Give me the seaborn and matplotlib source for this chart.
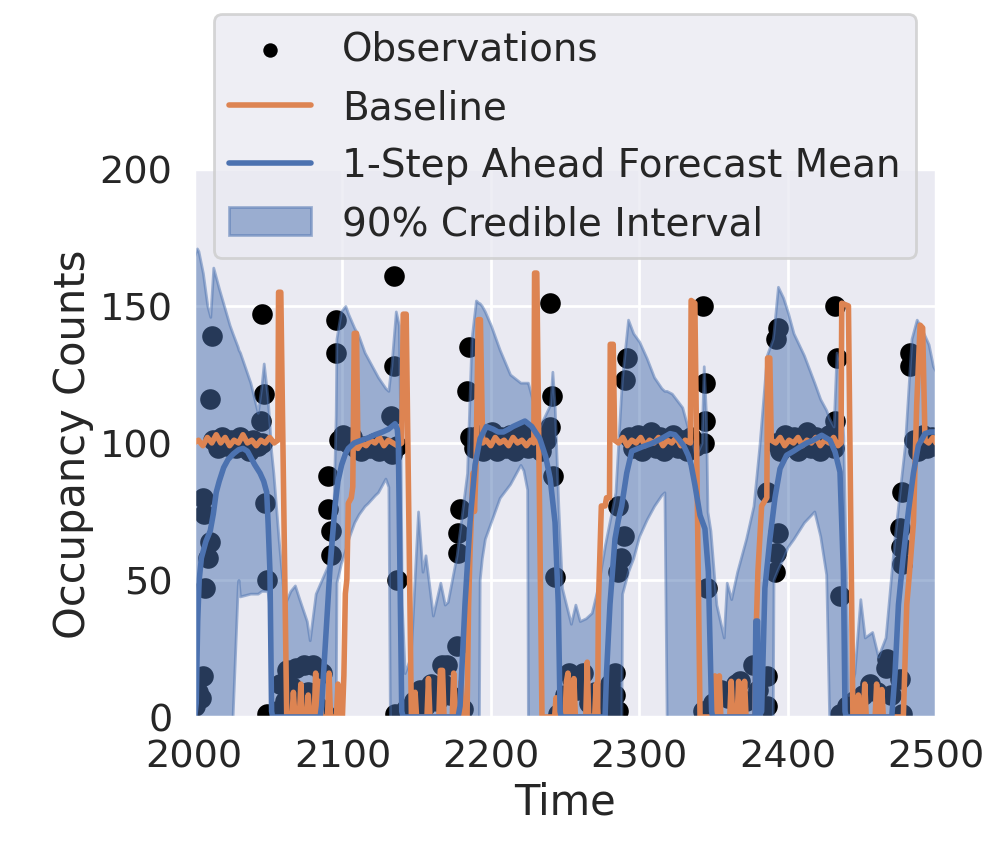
import matplotlib
matplotlib.use("Agg")
import matplotlib.pyplot as plt
import seaborn as sns

# observed occupancy counts (time, value)
obs_t = [2000.5, 2001.5, 2003, 2005, 2006, 2006, 2006.5, 2007.5, 2009.5, 2010.5,
         2011, 2012, 2013, 2016, 2019, 2022, 2025, 2028, 2031, 2034,
         2037, 2040, 2043, 2046, 2045, 2045.5, 2047, 2048, 2049, 2049,
         2056, 2058, 2061, 2063, 2066, 2069, 2071, 2074, 2077, 2080,
         2083, 2086, 2088, 2090.5, 2090.5, 2092.5, 2092.5, 2096, 2096, 2097.5,
         2100.5, 2103.5, 2106.5, 2109.5, 2112.5, 2115.5, 2118.5, 2121.5, 2124.5, 2127.5,
         2130.5, 2133.5, 2136.5, 2133, 2134.5, 2134.5, 2136.5, 2135.5, 2143, 2148,
         2152, 2156, 2160, 2164, 2167, 2168, 2170.5, 2172.5, 2177, 2181,
         2178, 2178, 2179.5, 2184, 2185, 2186, 2189, 2192, 2195, 2198,
         2201, 2204, 2207, 2210, 2213, 2216, 2219, 2222, 2225, 2228,
         2231, 2234, 2237, 2240, 2241, 2240, 2242, 2243.5, 2245, 2250,
         2252.5, 2255, 2258, 2262, 2266, 2270, 2275, 2280, 2283.5, 2284,
         2286, 2286, 2286, 2288, 2289.5, 2290.5, 2291.5, 2293, 2296, 2299,
         2302, 2305, 2308, 2311, 2314, 2317, 2320, 2323, 2326, 2329,
         2332, 2335, 2338, 2343, 2344.5, 2344.5, 2344, 2345.5, 2343, 2350,
         2355, 2360, 2365.5, 2368, 2372, 2377, 2380, 2386, 2386, 2386,
         2391.5, 2392.5, 2393.5, 2392.5, 2393.5, 2392, 2395, 2398, 2401, 2404,
         2407, 2410, 2413, 2416, 2419, 2422, 2425, 2428, 2431, 2432,
         2433, 2432, 2435.5, 2435.5, 2440, 2445, 2451, 2455.5, 2460, 2466,
         2467, 2470, 2476, 2477, 2476, 2476.5, 2477, 2477, 2482.5, 2482.5,
         2485, 2488, 2491, 2494, 2497, 2500]
obs_v = [4, 14, 9, 7, 15, 80, 74, 47, 58, 64,
         116, 139, 101, 98, 102, 99, 101, 98, 102, 100,
         97, 101, 99, 100, 108, 147, 118, 78, 50, 1,
         2, 12, 6, 17, 11, 18, 5, 19, 9, 19,
         4, 16, 1, 88, 76, 68, 59, 145, 133, 101,
         103, 100, 102, 98, 97, 99, 98, 100, 97, 99,
         98, 96, 99, 110, 161, 128, 50, 1, 3, 6,
         10, 4, 12, 6, 19, 12, 19, 8, 26, 3,
         60, 67, 76, 119, 135, 102, 98, 103, 97, 101,
         104, 97, 102, 98, 103, 97, 100, 104, 98, 102,
         99, 97, 101, 151, 117, 106, 88, 51, 1, 8,
         16, 14, 10, 16, 5, 9, 3, 12, 16, 8,
         2, 53, 77, 58, 66, 123, 131, 102, 98, 103,
         97, 101, 104, 98, 102, 97, 100, 103, 98, 101,
         97, 102, 99, 150, 122, 108, 100, 47, 2, 5,
         10, 7, 12, 13, 6, 19, 10, 15, 4, 82,
         53, 60, 67, 138, 142, 100, 97, 103, 99, 102,
         97, 101, 104, 98, 102, 97, 101, 103, 98, 150,
         131, 108, 44, 1, 4, 6, 8, 12, 9, 18,
         21, 8, 14, 1, 69, 62, 56, 82, 133, 128,
         101, 97, 103, 98, 102, 99]

# baseline forecast
base_t = [2000, 2003, 2006, 2009, 2012, 2015, 2018, 2021, 2024, 2027,
          2030, 2033, 2036, 2039, 2042, 2045, 2048, 2051, 2054, 2056.5,
          2057, 2058.5, 2062.5, 2066, 2067, 2068, 2071, 2072, 2073, 2076,
          2077, 2078, 2081, 2082, 2083, 2084.5, 2086, 2090, 2091, 2092,
          2096, 2097, 2098, 2100, 2101, 2102, 2103, 2104, 2106, 2107,
          2108, 2109.5, 2110.5, 2113, 2116, 2119, 2122, 2125, 2128, 2131,
          2134, 2137, 2140, 2141, 2143, 2146.5, 2148, 2149, 2150, 2157,
          2158, 2159, 2165, 2166, 2167.5, 2168.5, 2174, 2175, 2176, 2179,
          2180, 2181, 2184, 2185, 2186, 2188, 2189, 2190, 2191.5, 2193,
          2194.5, 2197, 2200, 2203, 2206, 2209, 2212, 2215, 2218, 2221,
          2224, 2227, 2229, 2229.5, 2231, 2234.5, 2243, 2244, 2245, 2250,
          2251, 2252, 2253, 2255, 2256, 2257, 2264, 2265, 2266, 2270,
          2271, 2272, 2272.5, 2274.5, 2277, 2278, 2280, 2280.5, 2282.5, 2283.5,
          2286, 2289, 2292, 2295, 2298, 2301, 2304, 2307, 2310, 2313,
          2316, 2319, 2322, 2325, 2328, 2331, 2334.5, 2335, 2337.5, 2341,
          2350, 2351, 2352, 2353, 2354, 2355, 2361, 2362, 2363, 2366,
          2367, 2368, 2370, 2371, 2372, 2378, 2379, 2380, 2382.5, 2386,
          2386.5, 2388, 2389, 2392, 2395, 2398, 2401, 2404, 2407, 2410,
          2413, 2416, 2419, 2422, 2425, 2428, 2431, 2434, 2436, 2436.5,
          2441, 2444, 2447, 2447.7, 2448.5, 2451, 2452, 2453, 2459, 2460,
          2461, 2462.5, 2463.5, 2464.5, 2478, 2480.3, 2482.5, 2484.8, 2487, 2489.3,
          2491, 2492.6, 2495, 2498, 2500]
base_v = [100, 101, 99, 102, 100, 103, 100, 102, 99, 101,
          100, 103, 100, 101, 99, 101, 100, 102, 100, 101,
          155, 155, 0, 0, 9, 0, 0, 12, 0, 0,
          8, 0, 0, 16, 0, 13, 0, 0, 16, 0,
          0, 12, 0, 0, 15, 45, 50, 78, 80, 84,
          140, 140, 98, 100, 99, 101, 100, 102, 99, 101,
          100, 99, 100, 147, 147, 0, 0, 9, 0, 0,
          14, 0, 0, 17, 17, 0, 0, 16, 0, 0,
          13, 0, 0, 40, 60, 89, 75, 90, 145, 145,
          100, 101, 99, 102, 100, 101, 99, 102, 100, 101,
          99, 101, 100, 162, 162, 0, 0, 7, 0, 0,
          13, 16, 0, 0, 14, 0, 0, 20, 0, 0,
          12, 0, 41, 77, 77, 80, 80, 136, 136, 101,
          100, 102, 99, 101, 100, 102, 99, 101, 100, 102,
          99, 101, 100, 102, 99, 101, 100, 152, 151, 0,
          0, 15, 0, 0, 15, 0, 0, 13, 0, 0,
          13, 0, 0, 13, 0, 0, 35, 53, 77, 80,
          131, 131, 101, 100, 102, 99, 101, 100, 102, 99,
          101, 100, 102, 99, 101, 100, 102, 99, 100, 151,
          150, 0, 0, 8, 0, 0, 12, 0, 0, 12,
          0, 0, 10, 0, 0, 41, 55, 71, 114, 143,
          142, 101, 100, 102, 100]

# 1-step ahead forecast mean
mean_t = [2000.5, 2001.5, 2002.5, 2003.5, 2005, 2008, 2011, 2013, 2015, 2017,
          2020, 2023, 2026.5, 2030, 2033, 2036, 2038, 2041, 2044.5, 2047,
          2049, 2050, 2051.2, 2052.3, 2053,
          2085, 2086, 2088, 2091.5, 2095, 2097, 2099.5, 2102, 2104, 2108,
          2113, 2118, 2122, 2127, 2131, 2135.5, 2137, 2137.7, 2138.8, 2140, 2141,
          2178, 2179.3, 2182.6, 2186, 2189.4, 2192.8, 2197, 2201.7, 2205, 2208.5,
          2212, 2215, 2219, 2223, 2227.6, 2230, 2233, 2237, 2240, 2243.3,
          2245.5, 2246.7, 2247.5,
          2277, 2278, 2280.3, 2283.7, 2286, 2288.2, 2291.6, 2295, 2301.7, 2308.4,
          2315, 2320.8, 2324, 2326.4, 2330, 2333, 2335, 2337.6, 2341, 2344.3,
          2346.6, 2348.8, 2349.5,
          2378, 2378.6, 2379.8, 2380.5, 2382.5, 2384.7, 2388.1, 2391.5, 2394.9, 2399.3,
          2404, 2408.3, 2413, 2417.3, 2423, 2428.6, 2432, 2435.3, 2437.6, 2438.7, 2439.5,
          2470.2, 2472.4, 2474.7, 2478, 2481.4, 2484.8, 2488.1, 2492.6, 2496, 2500]
mean_v = [0, 5, 35, 50, 58, 64, 68, 74, 82, 86,
          91, 94, 96, 97.5, 98, 97, 95, 92, 89, 86,
          82, 70, 53, 2, 0,
          0, 4, 22, 53, 77, 86, 92, 96, 98, 100,
          101, 102, 103, 104, 105, 107, 105, 100, 53, 2, 0,
          0, 4, 41, 71, 92, 101.6, 106, 105, 104, 104,
          105, 106, 107, 108, 106, 104, 101.6, 95, 87, 71,
          41, 2, 0,
          0, 16, 41, 65, 72, 77, 89, 97, 98.5, 99.8,
          101.6, 103.4, 103, 101.6, 99, 95.5, 92, 84.5, 73.6, 68.7,
          53, 2, 0,
          0, 35, 35, 0, 2, 47, 65, 80, 90.6, 95.5,
          97, 98.5, 100, 101, 102.8, 101, 96.7, 89.4, 53, 2, 0,
          0, 16, 41, 59, 75, 89, 99, 103.4, 104, 104]

# 90% credible interval
band_t = [2000, 2002, 2003, 2006, 2009, 2011, 2013, 2017, 2024, 2026,
          2029.5, 2030, 2031, 2038, 2043, 2045.5, 2047, 2049.5, 2051, 2052,
          2053.5, 2057, 2061, 2065, 2068, 2071, 2076, 2078, 2082, 2086,
          2090, 2094, 2095.5, 2096, 2099, 2102, 2104, 2108, 2111, 2115,
          2117, 2122, 2124, 2129, 2131, 2132, 2133, 2136, 2138, 2139,
          2140, 2142, 2146, 2151, 2154, 2156, 2161, 2166, 2169, 2171,
          2177, 2184, 2187, 2190, 2192, 2192.5, 2194, 2196, 2200, 2206,
          2213, 2220, 2222, 2224.5, 2225, 2229, 2233, 2240, 2241.5, 2243,
          2245.5, 2248, 2254, 2257, 2260, 2264, 2268, 2272, 2277, 2284,
          2288, 2288.5, 2292.5, 2296, 2300, 2305, 2310, 2315, 2317, 2318.5,
          2322, 2329, 2333, 2336, 2338, 2342, 2343.5, 2345, 2346, 2348,
          2352, 2357, 2359, 2362, 2366, 2372, 2377, 2381, 2386, 2390,
          2390.5, 2393.5, 2397, 2400, 2404, 2411, 2418, 2422, 2426, 2428,
          2431, 2433, 2435, 2437.5, 2441, 2445, 2449, 2452, 2457, 2461,
          2466, 2472, 2479, 2483.5, 2487, 2490, 2495, 2498, 2500]
band_lo = [0, 0, 0, 0, 0, 0, 0, 0, 0, 0,
           48, 50, 44, 45, 45, 46, 46, 46, 40, 0,
           0, 0, 0, 0, 0, 0, 0, 0, 0, 0,
           0, 0, 0, 49, 56, 61, 65, 71, 74, 77,
           78, 81, 82, 87, 84, 0, 0, 0, 0, 0,
           0, 0, 0, 0, 0, 0, 0, 0, 0, 0,
           0, 0, 0, 0, 0, 50, 58, 65, 71, 80,
           85, 92, 90, 83, 0, 0, 0, 0, 0, 0,
           0, 0, 0, 0, 0, 0, 0, 0, 0, 0,
           0, 45, 53, 58, 66, 72, 77, 81, 82, 0,
           0, 0, 0, 0, 0, 0, 0, 0, 0, 0,
           0, 0, 0, 0, 0, 0, 0, 0, 0, 0,
           50, 54, 58, 62, 65, 71, 75, 66, 52, 0,
           0, 0, 0, 0, 0, 0, 0, 0, 0, 0,
           0, 0, 0, 0, 0, 0, 0, 0, 0]
band_hi = [168, 171, 170, 162, 150, 146, 164, 156, 143, 140,
           135, 134, 133, 122, 111, 121, 129, 117, 106, 97,
           89, 65, 41, 46, 48, 43, 35, 28, 45, 50,
           55, 77, 110, 138, 148, 150, 147, 142, 139, 133,
           131, 126, 124, 120, 119, 124, 128, 148, 143, 108,
           41, 16, 22, 75, 53, 59, 37, 49, 41, 42,
           59, 89, 138, 152, 151, 151, 150, 148, 143, 134,
           125, 122, 122, 122, 122, 114, 106, 114, 126, 114,
           77, 47, 34, 41, 35, 36, 38, 47, 63, 82,
           120, 124, 145, 140, 137, 131, 124, 120, 119, 119,
           118, 113, 105, 100, 95, 100, 128, 110, 75, 68,
           41, 29, 49, 43, 53, 65, 77, 99, 132, 138,
           140, 157, 153, 148, 140, 132, 122, 116, 112, 109,
           106, 133, 130, 102, 8, 16, 43, 29, 31, 22,
           29, 65, 99, 138, 145, 142, 136, 128, 126]

x_ticks = [2000, 2100, 2200, 2300, 2400, 2500]
y_ticks = [0, 50, 100, 150, 200]

sns.set_theme(context="poster", style="darkgrid", font_scale=1.25)
pal = sns.color_palette()

fig = plt.figure(figsize=(10.03, 8.54), dpi=100)
ax = fig.add_axes([0.1934, 0.1593, 0.7398, 0.6417])

sns.scatterplot(x=obs_t, y=obs_v, ax=ax, color="black", s=220, linewidth=0,
                label="Observations")
ax.fill_between(band_t, band_lo, band_hi, color=pal[0], alpha=0.5,
                label="90% Credible Interval")
sns.lineplot(x=base_t, y=base_v, ax=ax, color=pal[1], lw=4, estimator=None,
             sort=False, label="Baseline")
sns.lineplot(x=mean_t, y=mean_v, ax=ax, color=pal[0], lw=4, estimator=None,
             sort=False, label="1-Step Ahead Forecast Mean")

ax.set_xlim(2000, 2500)
ax.set_ylim(0, 200)
ax.set_xticks(x_ticks)
ax.set_yticks(y_ticks)
ax.set_xlabel("Time")
ax.set_ylabel("Occupancy Counts")

handles, labels = ax.get_legend_handles_labels()
order = ["Observations", "Baseline", "1-Step Ahead Forecast Mean", "90% Credible Interval"]
hmap = dict(zip(labels, handles))
ax.legend([hmap[k] for k in order], order, loc="upper center",
          bbox_to_anchor=(0.5, 1.282), borderaxespad=0, markerscale=0.7,
          fontsize=28, labelspacing=0.52, handlelength=2.1)

fig.savefig("out.png", dpi=100)
